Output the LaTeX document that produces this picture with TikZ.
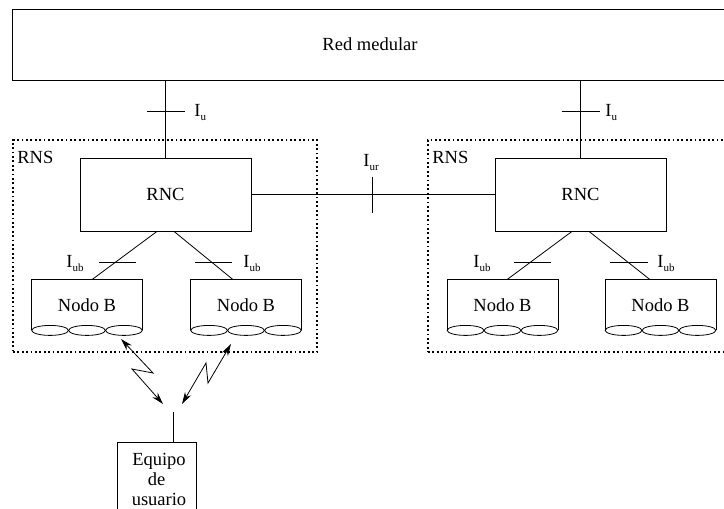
\documentclass[tikz,border=0pt]{standalone}
\usepackage{fontspec}
\setmainfont{Liberation Serif}
\newfontfamily\tfont{Liberation Serif}
\usetikzlibrary{arrows.meta,calc}
\newcommand{\subl}[1]{\raisebox{-4.5pt}{\fontsize{11}{11}\selectfont #1}}
\begin{document}
\begin{tikzpicture}[x=1pt,y=-1pt, line width=0.8pt,
  box/.style={draw, line width=0.8pt, inner sep=0pt},
  rns/.style={draw, line width=1.8pt, dash pattern=on 1.8pt off 2.6pt},
  lbl/.style={font=\tfont\fontsize{18.5}{20}\selectfont, inner sep=0pt},
  nodob/.style={lbl, minimum width=110pt, minimum height=50pt},
  wave/.style={line width=0.8pt, line join=miter, {Stealth[length=12pt,width=7pt]}-{Stealth[length=12pt,width=7pt]}}]
\useasboundingbox (0,0) rectangle (724,509);
\clip (0,0) rectangle (724,509);

% backbone
\node[box, lbl, minimum width=716pt, minimum height=71pt] (red) at (370,44.5) {Red medular};

% RNS areas
\node[rns, minimum width=304pt, minimum height=212pt, inner sep=0pt] (rnsL) at (165,246) {};
\node[rns, minimum width=312pt, minimum height=212pt, inner sep=0pt] (rnsR) at (584,246) {};
\node[lbl, anchor=base west] (rnsLt) at (17,163) {RNS};
\node[lbl, anchor=base west] (rnsRt) at (432,163) {RNS};

% RNCs
\node[box, lbl, minimum width=171pt, minimum height=73pt] (rncL) at (165.5,194.5) {RNC};
\node[box, lbl, minimum width=171pt, minimum height=73pt] (rncR) at (580.5,194.5) {RNC};

% Nodo B
\node[nodob] (nbA) at (87,305) {Nodo B};
\node[nodob] (nbB) at (246,305) {Nodo B};
\node[nodob] (nbC) at (502.5,305) {Nodo B};
\node[nodob] (nbD) at (660.5,305) {Nodo B};
\foreach \n in {nbA,nbB,nbC,nbD}{
  \draw (\n.south west) -- (\n.north west) -- (\n.north east) -- (\n.south east);
  \foreach \i in {1,3,5}
    \draw ($(\n.south west)!\i/6!(\n.south east)$) ellipse (18.33 and 5);
}

% Iu links
\draw (red.south -| rncL.north) -- (rncL.north);
\draw (red.south -| rncR.north) -- (rncR.north);
\coordinate (tuL) at (166,111);
\coordinate (tuR) at (580.5,111);
\draw ($(tuL)+(-19,0)$) -- ($(tuL)+(19,0)$);
\draw ($(tuR)+(-19,0)$) -- ($(tuR)+(19,0)$);
\node[lbl, anchor=base west] (iuL) at (194,116) {I\subl{u}};
\node[lbl, anchor=base west] (iuR) at (605,116) {I\subl{u}};

% Iur link
\draw (rncL.east) -- (rncR.west);
\coordinate (tur) at (372,194.5);
\draw ($(tur)+(0,-18)$) -- ($(tur)+(0,18)$);
\node[lbl, anchor=base west] (iur) at (363,166) {I\subl{ur}};

% Iub links
\draw ($(rncL.south)+(-8.5,0)$) -- ($(nbA.north)+(5,0)$);
\draw ($(rncL.south)+(8.5,0)$) -- ($(nbB.north)+(-13,0)$);
\draw ($(rncR.south)+(-8.5,0)$) -- ($(nbC.north)+(4.5,0)$);
\draw ($(rncR.south)+(8.5,0)$) -- ($(nbD.north)+(-10.5,0)$);
\draw (99,262) -- (136,262);
\draw (195,262) -- (232,262);
\draw (514,262) -- (551,262);
\draw (610,262) -- (648,262);
\node[lbl, anchor=base west] (iubA) at (66,267) {I\subl{ub}};
\node[lbl, anchor=base west] (iubB) at (243,267) {I\subl{ub}};
\node[lbl, anchor=base west] (iubC) at (473,267) {I\subl{ub}};
\node[lbl, anchor=base west] (iubD) at (657,267) {I\subl{ub}};

% user equipment
\node[box, lbl, align=center, minimum width=79pt, minimum height=74pt, anchor=north] (eq) at (156.5,442)
  {\hspace*{5pt}Equipo\\de\\\hspace*{5pt}usuario};
\coordinate (ant) at (173,412);
\draw (ant) -- (ant |- eq.north);

% radio links
\coordinate (wa1) at (121,339);
\coordinate (wa2) at (163,404);
\coordinate (wb1) at (231,344);
\coordinate (wb2) at (182,404);
\draw[wave] (wa1) -- (153,373) -- (132,369) -- (wa2);
\draw[wave] (wb1) -- (208,383) -- (206,363) -- (wb2);
\end{tikzpicture}
\end{document}
